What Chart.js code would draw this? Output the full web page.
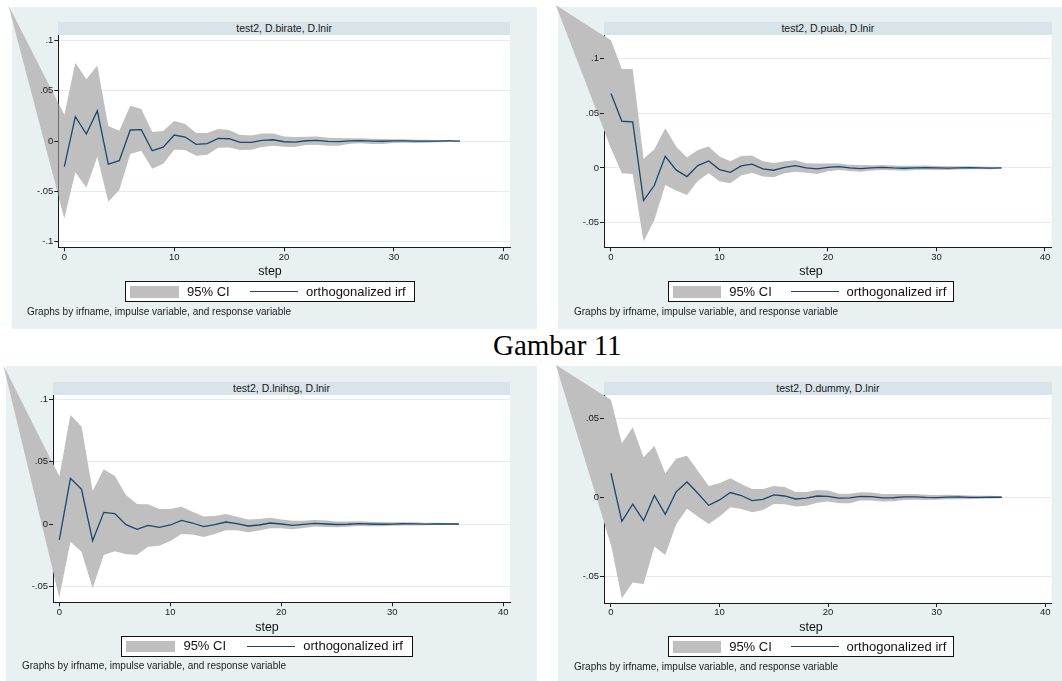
<!DOCTYPE html>
<html>
<head>
<meta charset="utf-8">
<script src="https://cdn.jsdelivr.net/npm/chart.js@4.4.1/dist/chart.umd.min.js"></script>
<style>
  html, body { margin: 0; padding: 0; background: #fff; }
  body { width: 1062px; height: 681px; position: relative; overflow: hidden;
         font-family: "Liberation Sans", Arial, sans-serif; color: #111; }
  .bg { position: absolute; background: #e9f0f2; }
  .strip { position: absolute; background: #d8e4ea; color: #1a1a1a; font-size: 10.5px;
           text-align: center; white-space: nowrap; overflow: hidden; }
  .cv { position: absolute; }
  .xt { position: absolute; font-size: 12.5px; color: #111; white-space: nowrap;
        transform: translate(-50%, -50%); }
  .leg { position: absolute; background: #fff; border: 1px solid #111; box-sizing: border-box; }
  .leg div { position: absolute; }
  .leg .lt { font-size: 13px; white-space: nowrap; color: #111; }
  .note { position: absolute; font-size: 10px; white-space: nowrap; color: #1a1a1a; }
  .cap { position: absolute; font-family: "Liberation Serif", "Times New Roman", serif;
         font-size: 29px; line-height: 29px; white-space: nowrap; color: #000; }
</style>
</head>
<body>
<div class="cap" style="left:493px; top:331px;">Gambar 11</div>
<script>
// forecast horizon
const steps = [0,1,2,3,4,5,6,7,8,9,10,11,12,13,14,15,16,17,18,19,20,21,22,23,24,25,26,27,28,29,30,31,32,33,34,35,36];
const xTicks = [0, 10, 20, 30, 40];

// impulse D.birate -> response D.lnir
const birateIrf = [-0.0255,0.0242,0.007,0.030,-0.0229,-0.0195,0.011,0.0113,-0.0096,-0.006,0.006,0.004,-0.0033,-0.0026,0.0026,0.0023,-0.0013,-0.0013,0.0007,0.0013,-0.0007,-0.001,0.0003,0.0007,-0.0003,-0.0005,0.0002,0.0004,-0.0001,-0.0002,0.0001,0.0002,0,-0.0001,0,0.0001,0];
const birateUpper = [0.0258,0.0778,0.0616,0.0752,0.0149,0.0103,0.0351,0.0318,0.0089,0.0099,0.0199,0.0169,0.0079,0.0079,0.0119,0.0109,0.006,0.0056,0.0076,0.0076,0.0046,0.004,0.0043,0.0046,0.0033,0.003,0.0028,0.0029,0.0022,0.002,0.0019,0.0019,0.0014,0.0012,0.0011,0.001,0.0006];
const birateLower = [-0.0768,-0.0311,-0.0464,-0.0156,-0.0603,-0.0487,-0.0129,-0.0096,-0.0275,-0.0225,-0.0086,-0.0089,-0.0146,-0.0136,-0.0066,-0.0063,-0.0089,-0.0086,-0.006,-0.0046,-0.0056,-0.006,-0.004,-0.0036,-0.0046,-0.0046,-0.0027,-0.0022,-0.003,-0.003,-0.002,-0.0016,-0.002,-0.0018,-0.0012,-0.0009,-0.0009];

// impulse D.puab -> response D.lnir
const puabIrf = [0.068,0.0427,0.0421,-0.0299,-0.0159,0.0107,-0.0018,-0.0079,0.0021,0.0064,-0.0015,-0.004,0.0018,0.0034,-0.0009,-0.0021,0.0006,0.0021,0,-0.0009,0.0006,0.0012,0,-0.0006,0,0.0006,0,-0.0003,0,0.0003,0.0001,-0.0002,0,0.0002,0,-0.0001,0];
const puabUpper = [0.1165,0.0906,0.0906,0.0085,0.0171,0.0363,0.0195,0.0095,0.0165,0.0195,0.0104,0.0061,0.011,0.0113,0.0061,0.0046,0.0061,0.007,0.0043,0.004,0.004,0.004,0.003,0.0027,0.0024,0.0027,0.0022,0.002,0.0021,0.0022,0.0018,0.0016,0.0015,0.0015,0.0012,0.001,0.0008];
const puabLower = [0.018,-0.0049,-0.0055,-0.0674,-0.0476,-0.0155,-0.0207,-0.0247,-0.0119,-0.0049,-0.0122,-0.014,-0.007,-0.0043,-0.0079,-0.0085,-0.0049,-0.0034,-0.0043,-0.0055,-0.003,-0.0018,-0.0027,-0.0034,-0.0024,-0.0018,-0.0022,-0.0026,-0.002,-0.0016,-0.0018,-0.0019,-0.0014,-0.0011,-0.0013,-0.0011,-0.0008];

// impulse D.lnihsg -> response D.lnir
const lnihsgIrf = [-0.0128,0.0366,0.0278,-0.0134,0.0093,0.0083,-0.0005,-0.0043,-0.0011,-0.0027,-0.0008,0.0029,0.0008,-0.0021,-0.0005,0.0016,0.0003,-0.0016,-0.0008,0.0008,0,-0.0011,-0.0003,0.0005,0,-0.0004,-0.0002,0.0003,0,-0.0002,-0.0001,0.0002,0.0001,-0.0001,0,0.0001,0];
const lnihsgUpper = [0.038,0.0873,0.078,0.0264,0.0438,0.0384,0.0232,0.016,0.0158,0.012,0.012,0.0139,0.0099,0.0061,0.0064,0.008,0.0059,0.0037,0.004,0.0051,0.0037,0.0027,0.0027,0.0032,0.0029,0.0021,0.002,0.0022,0.0019,0.0017,0.0015,0.0015,0.0014,0.0011,0.001,0.0009,0.0006];
const lnihsgLower = [-0.0587,-0.0142,-0.0222,-0.0515,-0.0248,-0.0219,-0.0243,-0.0246,-0.0182,-0.0174,-0.0136,-0.008,-0.0085,-0.0104,-0.008,-0.0051,-0.0051,-0.0067,-0.0053,-0.0035,-0.0035,-0.0043,-0.0032,-0.0021,-0.0024,-0.0027,-0.0022,-0.0016,-0.0018,-0.0018,-0.0015,-0.0012,-0.0012,-0.0011,-0.0009,-0.0007,-0.0006];

// impulse D.dummy -> response D.lnir
const dummyIrf = [0.0152,-0.0152,-0.0044,-0.0148,0.0011,-0.0108,0.0034,0.0097,0.0025,-0.0051,-0.0017,0.003,0.0011,-0.0021,-0.0013,0.0015,0.0008,-0.0011,-0.0006,0.0008,0.0006,-0.0006,-0.0004,0.0006,0.0004,-0.0004,-0.0003,0.0002,0.0003,-0.0001,-0.0002,0.0001,0.0002,-0.0001,-0.0001,0.0001,0];
const dummyUpper = [0.0616,0.0342,0.0443,0.0253,0.0325,0.0152,0.0243,0.0262,0.0167,0.0072,0.0089,0.012,0.0084,0.0053,0.0053,0.0072,0.0065,0.0034,0.0034,0.0046,0.0042,0.0023,0.0023,0.0032,0.003,0.0021,0.002,0.0021,0.002,0.0016,0.0015,0.0016,0.0014,0.0011,0.001,0.0009,0.0006];
const dummyLower = [-0.030,-0.0639,-0.054,-0.0549,-0.0312,-0.0365,-0.0173,-0.0072,-0.0122,-0.0169,-0.0122,-0.0063,-0.0074,-0.0095,-0.008,-0.0042,-0.0044,-0.0059,-0.0053,-0.0034,-0.0027,-0.0038,-0.0038,-0.0021,-0.0021,-0.0027,-0.0025,-0.0018,-0.0016,-0.0018,-0.0016,-0.0013,-0.0012,-0.0012,-0.001,-0.0008,-0.0006];

// where the CI band's two edges meet, left of step 0 (one per panel)
const bandTipStep = [-5.1, -5.09, -5.05, -5.09];
const bandTipValue = [0.1353, 0.149, 0.1273, 0.0838];

// y-axis ticks and their labels
const yTicksWide = [-0.1, -0.05, 0, 0.05, 0.1];
const yLabelsWide = ['-.1', '-.05', '0', '.05', '.1'];
const yTicksMid = [-0.05, 0, 0.05, 0.1];
const yLabelsMid = ['-.05', '0', '.05', '.1'];
const yTicksNarrow = [-0.05, 0, 0.05];
const yLabelsNarrow = ['-.05', '0', '.05'];

const titles = ['test2, D.birate, D.lnir', 'test2, D.puab, D.lnir', 'test2, D.lnihsg, D.lnir', 'test2, D.dummy, D.lnir'];
const legendLabels = ['95% CI', 'orthogonalized irf'];
const xTitle = 'step';
const noteText = 'Graphs by irfname, impulse variable, and response variable';

const BAND = '#bfbfbf';
const NAVY = '#1a476f';
const INK = '#1a1a1a';

// panel geometry: [left, top, right, bottom] in page pixels
const panels = [
  { irf: birateIrf, up: birateUpper, lo: birateLower, yt: yTicksWide, yl: yLabelsWide,
    ymin: -0.1057, ymax: 0.1055, xmin: -0.55, xmax: 40.56,
    bg: [12, 7, 537, 329], area: [58.3, 35, 510, 247.3], stripTop: 22.3,
    canvas: [0, 0, 540, 330], step: [270, 271], legend: [125, 281, 415, 302], note: [27, 306] },
  { irf: puabIrf, up: puabUpper, lo: puabLower, yt: yTicksMid, yl: yLabelsMid,
    ymin: -0.0726, ymax: 0.1216, xmin: -0.645, xmax: 40.62,
    bg: [558, 7, 1062, 329], area: [604, 35, 1051.7, 247.3], stripTop: 22.3,
    canvas: [540, 0, 1062, 330], step: [811, 271], legend: [668, 281, 954, 302], note: [574, 306] },
  { irf: lnihsgIrf, up: lnihsgUpper, lo: lnihsgLower, yt: yTicksMid, yl: yLabelsMid,
    ymin: -0.0627, ymax: 0.1033, xmin: -0.57, xmax: 40.6,
    bg: [6, 366, 537, 681], area: [53, 395, 510, 602.3], stripTop: 382.3,
    canvas: [0, 360, 540, 681], step: [267, 626.7], legend: [121, 636, 413, 656.5], note: [22, 660] },
  { irf: dummyIrf, up: dummyUpper, lo: dummyLower, yt: yTicksNarrow, yl: yLabelsNarrow,
    ymin: -0.0669, ymax: 0.0647, xmin: -0.644, xmax: 40.6,
    bg: [558, 366, 1062, 681], area: [604, 395, 1051.7, 603], stripTop: 382.3,
    canvas: [540, 360, 1062, 681], step: [811, 626.7], legend: [668, 636, 954, 657], note: [574, 661] }
];

function el(cls, style, text) {
  const d = document.createElement('div');
  d.className = cls;
  Object.assign(d.style, style);
  if (text !== undefined) d.textContent = text;
  document.body.appendChild(d);
  return d;
}
const px = v => v + 'px';

// white plot region, plus the part of the CI band that runs past the plot's left edge
const plotRegion = {
  id: 'plotRegion',
  beforeDraw(chart) {
    const { ctx, chartArea: a, scales: { x, y } } = chart;
    ctx.save();
    ctx.fillStyle = '#ffffff';
    ctx.fillRect(a.left, a.top, a.right - a.left, a.bottom - a.top);
    const up = chart.data.datasets[1].data;
    const lo = chart.data.datasets[2].data;
    ctx.fillStyle = BAND;
    ctx.beginPath();
    ctx.moveTo(x.getPixelForValue(up[0].x), y.getPixelForValue(up[0].y));
    ctx.lineTo(x.getPixelForValue(up[1].x), y.getPixelForValue(up[1].y));
    ctx.lineTo(x.getPixelForValue(lo[1].x), y.getPixelForValue(lo[1].y));
    ctx.closePath();
    ctx.fill();
    ctx.restore();
  }
};

panels.forEach((p, k) => {
  const [bx0, by0, bx1, by1] = p.bg;
  el('bg', { left: px(bx0), top: px(by0), width: px(bx1 - bx0), height: px(by1 - by0) });
  const [ax0, ay0, ax1, ay1] = p.area;
  el('strip', { left: px(ax0), top: px(p.stripTop), width: px(ax1 - ax0), height: px(ay0 - p.stripTop),
                lineHeight: px(ay0 - p.stripTop) }, titles[k]);

  const [cx0, cy0, cx1, cy1] = p.canvas;
  const W = cx1 - cx0, H = cy1 - cy0;
  const cv = document.createElement('canvas');
  cv.className = 'cv';
  cv.width = W; cv.height = H;
  Object.assign(cv.style, { left: px(cx0), top: px(cy0), width: px(W), height: px(H) });
  document.body.appendChild(cv);

  const yAxisW = ax0 - cx0;
  const xAxisH = 20;
  const pad = { left: 0, top: ay0 - cy0, right: cx1 - ax1, bottom: cy1 - ay1 - xAxisH };

  const pts = arr => steps.map((s, i) => ({ x: s, y: arr[i] }));
  const tip = { x: bandTipStep[k], y: bandTipValue[k] };

  new Chart(cv, {
    type: 'line',
    data: {
      datasets: [
        { label: legendLabels[1], data: pts(p.irf), borderColor: NAVY, borderWidth: 1.3,
          pointRadius: 0, fill: false, tension: 0 },
        { label: legendLabels[0], data: [tip].concat(pts(p.up)), borderColor: 'rgba(0,0,0,0)', borderWidth: 0,
          backgroundColor: BAND, pointRadius: 0, fill: '+1', tension: 0 },
        { label: 'lower', data: [tip].concat(pts(p.lo)), borderColor: 'rgba(0,0,0,0)', borderWidth: 0,
          pointRadius: 0, fill: false, tension: 0 }
      ]
    },
    options: {
      responsive: false, animation: false, devicePixelRatio: 1,
      layout: { padding: pad, autoPadding: false },
      plugins: { legend: { display: false }, tooltip: { enabled: false }, title: { display: false } },
      scales: {
        x: {
          type: 'linear', min: p.xmin, max: p.xmax,
          afterFit(s) { s.height = xAxisH; },
          afterBuildTicks(s) { s.ticks = xTicks.map(v => ({ value: v })); },
          ticks: { autoSkip: false, maxRotation: 0, padding: 0, color: INK,
                   font: { family: 'Liberation Sans', size: 9.5 }, callback: v => String(v) },
          grid: { display: true, drawOnChartArea: false, drawTicks: true, tickLength: 4, tickColor: INK },
          border: { display: true, color: INK, width: 1 }
        },
        y: {
          type: 'linear', min: p.ymin, max: p.ymax,
          afterFit(s) { s.width = yAxisW; },
          afterBuildTicks(s) { s.ticks = p.yt.map(v => ({ value: v })); },
          ticks: { autoSkip: false, padding: 1, color: INK,
                   font: { family: 'Liberation Sans', size: 9.5 }, callback: (v, i) => p.yl[i] },
          grid: { display: true, drawOnChartArea: true, color: '#e3ecef', lineWidth: 1,
                  drawTicks: true, tickLength: 4, tickColor: INK },
          border: { display: true, color: INK, width: 1 }
        }
      }
    },
    plugins: [plotRegion]
  });

  el('xt', { left: px(p.step[0]), top: px(p.step[1]) }, xTitle);

  const [lx0, ly0, lx1, ly1] = p.legend;
  const lw = lx1 - lx0, lh = ly1 - ly0, s = lw / 290;
  const box = el('leg', { left: px(lx0), top: px(ly0), width: px(lw), height: px(lh) });
  const add = (style, text, cls) => {
    const d = document.createElement('div');
    if (cls) d.className = cls;
    Object.assign(d.style, style);
    if (text !== undefined) d.textContent = text;
    box.appendChild(d);
  };
  add({ left: px(4 * s), top: px(3.5), width: px(49 * s), height: px(lh - 9), background: BAND });
  add({ left: px(61 * s), top: '0px', lineHeight: px(lh - 2) }, legendLabels[0], 'lt');
  add({ left: px(124 * s), top: px((lh - 2) / 2 - 0.6), width: px(48 * s), height: '1.3px', background: NAVY });
  add({ left: px(180 * s), top: '0px', lineHeight: px(lh - 2) }, legendLabels[1], 'lt');

  el('note', { left: px(p.note[0]), top: px(p.note[1]) }, noteText);
});
</script>
</body>
</html>
